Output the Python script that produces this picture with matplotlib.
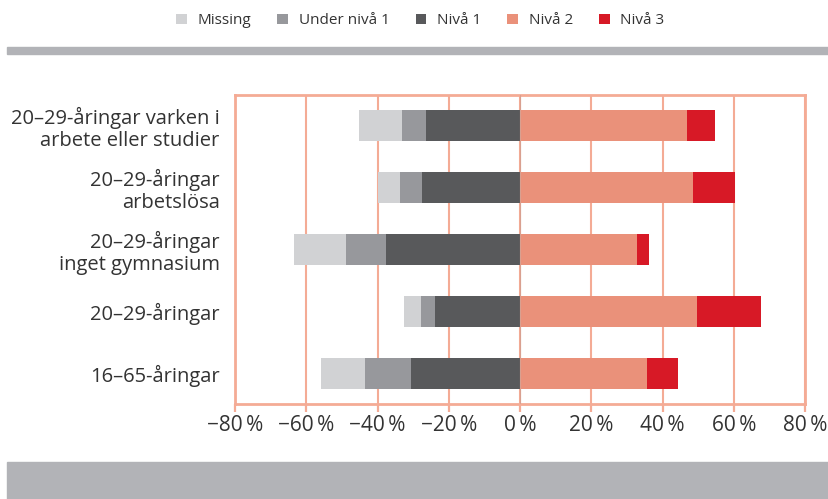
import matplotlib
matplotlib.use("Agg")
import matplotlib.pyplot as plt
from matplotlib.patches import Rectangle
import numpy as np

plt.rcParams['font.family'] = ['Open Sans', 'DejaVu Sans']

# categories, top to bottom
groups = ['20–29-åringar varken i\narbete eller studier',
          '20–29-åringar\narbetslösa',
          '20–29-åringar\ninget gymnasium',
          '20–29-åringar',
          '16–65-åringar']

# share in percent
missing = [12.2, 6.2, 14.6, 4.9, 12.3]
under_niva1 = [6.7, 6.2, 11.2, 3.8, 13.0]
niva1 = [26.3, 27.5, 37.7, 23.9, 30.6]
niva2 = [47.0, 48.6, 32.9, 49.8, 35.5]
niva3 = [7.8, 11.6, 3.4, 17.7, 8.9]

ticks = [-80, -60, -40, -20, 0, 20, 40, 60, 80]
tick_labels = ['−80\u2009%', '−60\u2009%', '−40\u2009%', '−20\u2009%', '0\u2009%',
               '20\u2009%', '40\u2009%', '60\u2009%', '80\u2009%']

c_missing = '#d1d2d4'
c_under = '#97989c'
c_n1 = '#58595b'
c_n2 = '#ea917a'
c_n3 = '#d71926'
c_frame = '#f4ab95'
c_band = '#b2b3b7'
c_text = '#333333'

fig = plt.figure(figsize=(8.29, 4.99), dpi=100)
ax = fig.add_axes([0.2835, 0.1904, 0.6876, 0.6192])

y = np.arange(len(groups))
h = 0.5
n1 = np.array(niva1)
un = np.array(under_niva1)
mi = np.array(missing)
n2 = np.array(niva2)
n3 = np.array(niva3)

ax.barh(y, -n1, height=h, color=c_n1, label='Nivå 1', zorder=3)
ax.barh(y, -un, left=-n1, height=h, color=c_under, label='Under nivå 1', zorder=3)
ax.barh(y, -mi, left=-(n1 + un), height=h, color=c_missing, label='Missing', zorder=3)
ax.barh(y, n2, height=h, color=c_n2, label='Nivå 2', zorder=3)
ax.barh(y, n3, left=n2, height=h, color=c_n3, label='Nivå 3', zorder=3)

ax.set_xlim(-80, 80)
ax.set_ylim(len(groups) - 0.5, -0.5)
ax.set_xticks(ticks)
ax.set_xticklabels(tick_labels, fontsize=15, color=c_text)
ax.set_yticks(y)
ax.set_yticklabels(groups, fontsize=14.5, color=c_text, linespacing=1.1)
ax.tick_params(axis='y', length=0, pad=11)
ax.tick_params(axis='x', length=6, width=1.6, color=c_frame, pad=2)
for lab in ax.get_yticklabels():
    lab.set_horizontalalignment('right')
    lab.set_multialignment('right')

ax.grid(axis='x', color=c_frame, linewidth=1.5, zorder=1)
ax.set_axisbelow(True)
for s in ax.spines.values():
    s.set_color(c_frame)
    s.set_linewidth(2)
ax.axvline(0, color='#d9a090', linewidth=0.8, zorder=4)

# grey bands
fig.patches.append(Rectangle((7 / 829, 1 - 54 / 499), 1, 7 / 499,
                             transform=fig.transFigure, color=c_band, zorder=0))
fig.patches.append(Rectangle((7 / 829, 0), 1, 37 / 499,
                             transform=fig.transFigure, color=c_band, zorder=0))

handles, labels = ax.get_legend_handles_labels()
order = [2, 1, 0, 3, 4]
fig.legend([handles[i] for i in order], [labels[i] for i in order],
           loc='center', bbox_to_anchor=(0.507, 0.958), ncol=5, frameon=False,
           fontsize=11, handlelength=0.7, handleheight=0.7, handletextpad=0.7,
           columnspacing=1.7, labelcolor=c_text)

fig.savefig('out.png', dpi=100)
